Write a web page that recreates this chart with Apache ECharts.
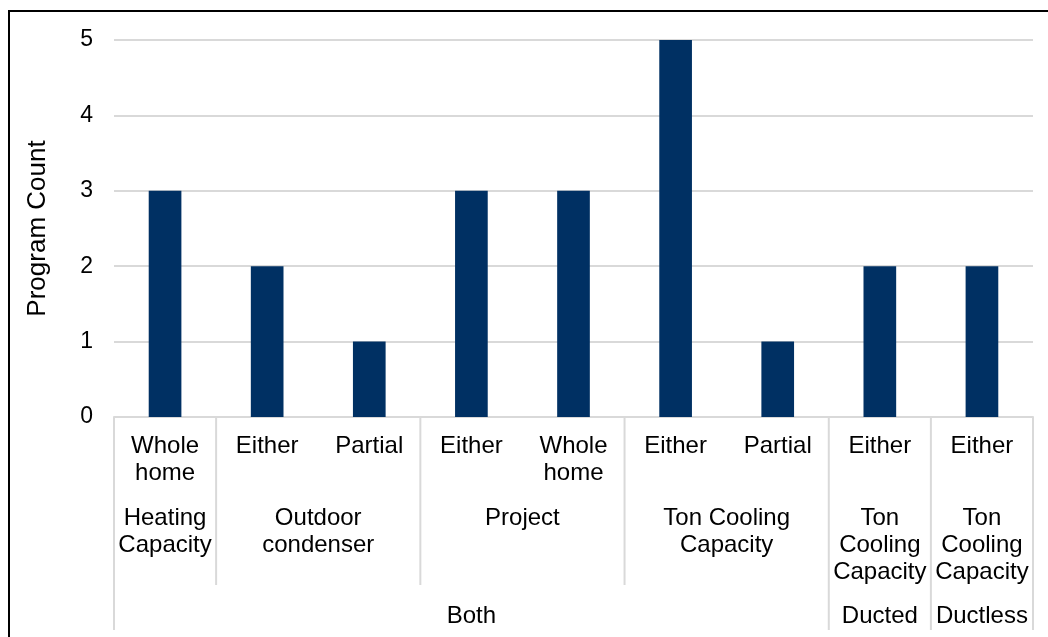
<!DOCTYPE html>
<html>
<head>
<meta charset="utf-8">
<script src="https://cdn.jsdelivr.net/npm/echarts@6/dist/echarts.min.js"></script>
<style>
  html, body { margin: 0; padding: 0; background: #fff; }
  #chart { width: 1048px; height: 637px; }
</style>
</head>
<body>
<div id="chart"></div>
<script>
// Innermost category labels (one per bar)
const categories = ['Whole\nhome', 'Either', 'Partial', 'Either', 'Whole\nhome', 'Either', 'Partial', 'Either', 'Either'];
// Program counts per category
const programCounts = [3, 2, 1, 3, 3, 5, 1, 2, 2];
// Second-level groups: label and number of bars covered
const sizingLabels = ['Heating\nCapacity', 'Outdoor\ncondenser', 'Project', 'Ton Cooling\nCapacity', 'Ton\nCooling\nCapacity', 'Ton\nCooling\nCapacity'];
const sizingSpans = [1, 2, 2, 2, 1, 1];
// Outer groups: label and number of bars covered
const systemLabels = ['Both', 'Ducted', 'Ductless'];
const systemSpans = [7, 1, 1];
// Value axis ticks
const yTicks = [0, 1, 2, 3, 4, 5];

const FONT = "'Liberation Sans', Arial, sans-serif";
const LABEL_SIZE = 24;
const chart = echarts.init(document.getElementById('chart'), null, { renderer: 'canvas' });

chart.setOption({
  animation: false,
  backgroundColor: '#ffffff',
  grid: { left: 114, right: 15, top: 40, bottom: 220, containLabel: false },
  xAxis: {
    type: 'category',
    data: categories,
    axisLine: { show: true, lineStyle: { color: '#d9d9d9', width: 2 } },
    axisTick: { show: false },
    axisLabel: {
      interval: 0, margin: 16, color: '#000', fontFamily: FONT, fontSize: LABEL_SIZE, lineHeight: 27
    }
  },
  yAxis: {
    type: 'value',
    min: yTicks[0],
    max: yTicks[yTicks.length - 1],
    interval: 1,
    name: 'Program Count',
    nameLocation: 'middle',
    nameGap: 63,
    nameRotate: 90,
    nameTextStyle: { color: '#000', fontFamily: FONT, fontSize: 26 },
    axisLine: { show: false },
    axisTick: { show: false },
    axisLabel: { margin: 21, color: '#000', fontFamily: FONT, fontSize: 23 },
    splitLine: { lineStyle: { color: '#d9d9d9', width: 2 } }
  },
  series: [{
    type: 'bar',
    data: programCounts,
    barWidth: '32%',
    itemStyle: { color: '#003063' }
  }]
});

// Multi-level axis: group labels and separators placed from the category scale
const c0 = chart.convertToPixel({ xAxisIndex: 0 }, 0);
const c1 = chart.convertToPixel({ xAxisIndex: 0 }, 1);
const band = c1 - c0;
const edge = i => c0 - band / 2 + i * band;
const axisY = chart.convertToPixel({ yAxisIndex: 0 }, 0);

const graphics = [];
const textStyle = text => ({ text, fill: '#000', fontSize: LABEL_SIZE, fontFamily: FONT, align: 'center', verticalAlign: 'top', lineHeight: 27 });
const outerBounds = new Set([0]);
let acc = 0;
systemSpans.forEach((s, k) => {
  const start = acc; acc += s; outerBounds.add(acc);
  graphics.push({ type: 'text', x: (edge(start) + edge(acc)) / 2, y: axisY + 186, style: textStyle(systemLabels[k]) });
});
const innerBounds = new Set();
acc = 0;
sizingSpans.forEach((s, k) => {
  const start = acc; acc += s;
  if (!outerBounds.has(acc)) innerBounds.add(acc);
  graphics.push({ type: 'text', x: (edge(start) + edge(acc)) / 2, y: axisY + 88, style: textStyle(sizingLabels[k]) });
});
outerBounds.forEach(b => {
  graphics.push({ type: 'line', shape: { x1: edge(b), y1: axisY, x2: edge(b), y2: axisY + 213 }, style: { stroke: '#d9d9d9', lineWidth: 2 } });
});
innerBounds.forEach(b => {
  graphics.push({ type: 'line', shape: { x1: edge(b), y1: axisY, x2: edge(b), y2: axisY + 168 }, style: { stroke: '#d9d9d9', lineWidth: 2 } });
});
// Chart frame
graphics.push({ type: 'rect', shape: { x: 9, y: 11, width: 1200, height: 800 }, style: { fill: 'none', stroke: '#000', lineWidth: 2 } });

chart.setOption({ graphic: graphics });
</script>
</body>
</html>
